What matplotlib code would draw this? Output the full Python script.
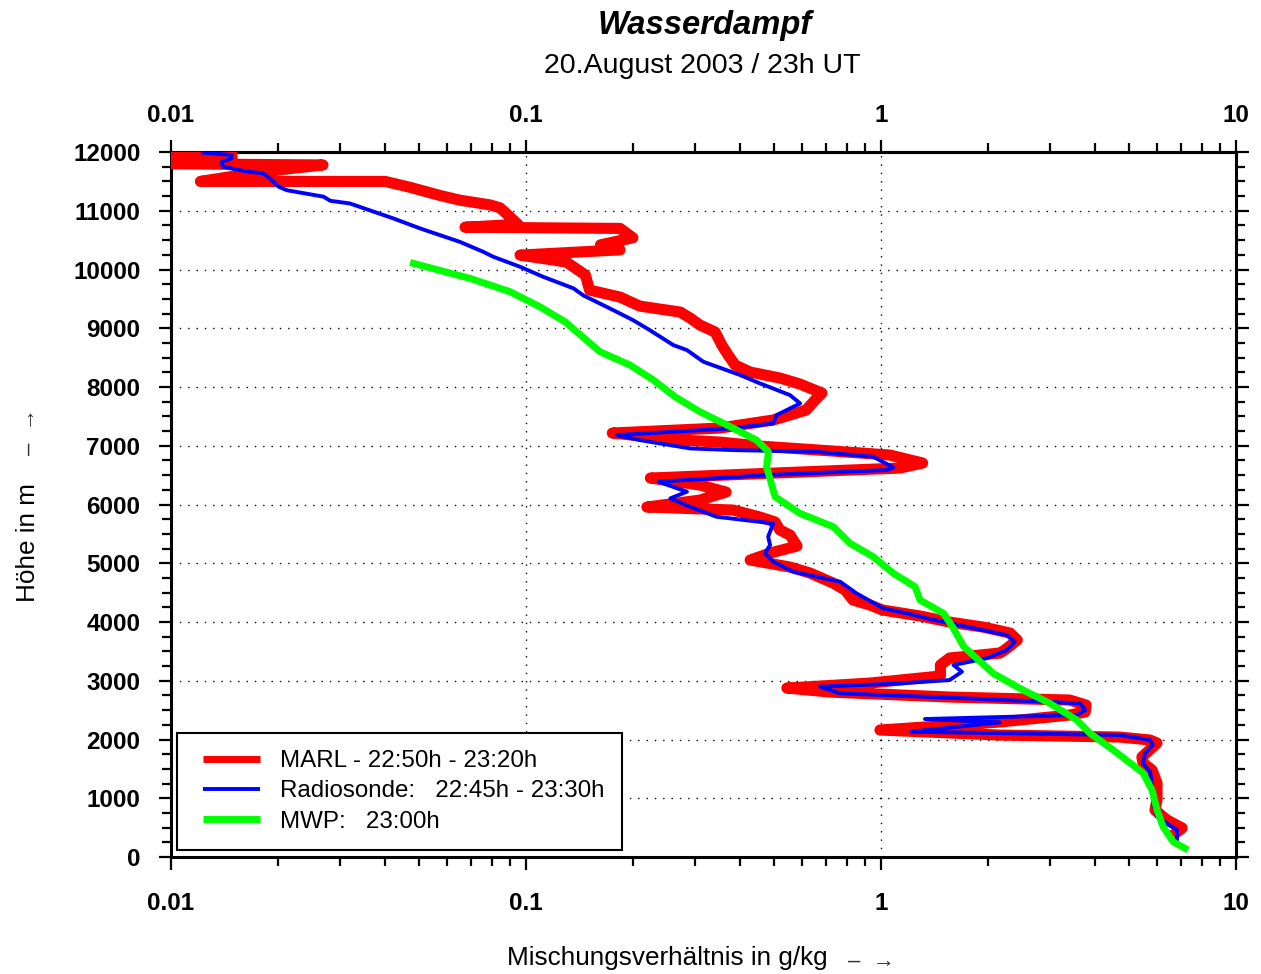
import numpy as np
import matplotlib
matplotlib.use('Agg')
import matplotlib.pyplot as plt
from matplotlib.ticker import FixedLocator, FixedFormatter, LogLocator, NullFormatter, MultipleLocator

plt.rcParams['font.family'] = ['Liberation Sans', 'DejaVu Sans']

# MARL lidar profile (g/kg, m)
marl_q = [0.01485, 0.0100, 0.0096, 0.0096, 0.0268, 0.0178, 0.0121, 0.0401, 0.0471, 0.0573,
          0.0652, 0.0792, 0.0845, 0.0949, 0.0673, 0.184, 0.200, 0.162, 0.184, 0.0962,
          0.130, 0.147, 0.151, 0.184, 0.209, 0.272, 0.290, 0.309, 0.341, 0.356,
          0.371, 0.388, 0.428, 0.519, 0.591, 0.682, 0.652, 0.615, 0.554, 0.496,
          0.352, 0.175, 0.272, 0.352, 0.456, 0.733, 1.06, 1.31, 1.13, 0.591,
          0.224, 0.309, 0.366, 0.309, 0.219, 0.383, 0.456, 0.503, 0.519, 0.554,
          0.580, 0.487, 0.428, 0.554, 0.631, 0.733, 0.792, 0.834, 0.931, 1.01,
          1.29, 1.56, 1.94, 2.31, 2.42, 2.23, 2.16, 1.56, 1.47, 1.47,
          0.931, 0.543, 0.718, 1.56, 3.40, 3.78, 3.76, 3.40, 2.16, 0.993,
          2.16, 4.71, 5.73, 5.99, 5.43, 5.47, 5.80, 5.99, 5.99, 5.91,
          6.39, 7.05, 6.82]
marl_h = [11960, 11960, 11930, 11800, 11780, 11660, 11500, 11500, 11400, 11260,
          11180, 11100, 11050, 10770, 10720, 10700, 10540, 10420, 10335, 10246,
          10127, 9906, 9650, 9531, 9378, 9276, 9174, 9055, 8936, 8714,
          8544, 8374, 8255, 8153, 8051, 7897, 7778, 7608, 7523, 7438,
          7302, 7217, 7097, 7063, 6995, 6910, 6842, 6706, 6621, 6553,
          6451, 6331, 6212, 6076, 5957, 5906, 5787, 5702, 5566, 5481,
          5293, 5174, 5055, 4936, 4834, 4663, 4544, 4374, 4289, 4204,
          4102, 3999, 3914, 3812, 3693, 3523, 3472, 3387, 3268, 3081,
          2961, 2876, 2808, 2723, 2672, 2587, 2468, 2417, 2298, 2162,
          2076, 2042, 1991, 1940, 1702, 1600, 1481, 1259, 970, 800,
          630, 494, 425]

# Radiosonde profile
sonde_q = [0.0123, 0.0148, 0.0148, 0.0139, 0.0140, 0.0160, 0.0182, 0.0190, 0.0201, 0.0212,
           0.0269, 0.0281, 0.0319, 0.0423, 0.0503, 0.0652, 0.0759, 0.0809, 0.0962, 0.1117,
           0.136, 0.145, 0.176, 0.200, 0.223, 0.260, 0.284, 0.316, 0.401, 0.456,
           0.554, 0.592, 0.508, 0.497, 0.376, 0.180, 0.209, 0.290, 0.383, 0.659,
           0.951, 1.083, 1.037, 0.476, 0.236, 0.284, 0.255, 0.290, 0.344, 0.497,
           0.481, 0.487, 0.471, 0.497, 0.566, 0.767, 0.853, 1.014, 1.242, 1.345,
           1.742, 2.26, 2.38, 2.26, 1.98, 1.60, 1.69, 1.56, 1.13, 0.673,
           0.767, 1.74, 3.64, 3.76, 3.56, 1.33, 2.16, 1.22, 4.71, 5.73,
           5.83, 5.54, 5.47, 5.73, 5.80, 5.84, 5.99, 6.39, 6.82, 6.82]
sonde_h = [11990, 11950, 11890, 11835, 11750, 11680, 11635, 11550, 11410, 11350,
           11240, 11170, 11125, 10870, 10700, 10470, 10300, 10217, 10047, 9877,
           9680, 9560, 9310, 9140, 8970, 8714, 8629, 8430, 8204, 8062,
           7863, 7721, 7523, 7380, 7296, 7182, 7097, 6955, 6927, 6898,
           6813, 6632, 6587, 6502, 6388, 6218, 6105, 5962, 5792, 5678,
           5452, 5310, 5169, 5026, 4856, 4686, 4488, 4233, 4119, 4063,
           3920, 3778, 3665, 3523, 3382, 3268, 3154, 3012, 2956, 2899,
           2786, 2701, 2616, 2502, 2417, 2349, 2292, 2133, 2076, 1991,
           1906, 1765, 1594, 1452, 1197, 914, 686, 572, 459, 289]

# Microwave profiler
mwp_q = [0.0482, 0.0695, 0.0902, 0.1094, 0.1288, 0.1616, 0.1963, 0.2285, 0.263, 0.309,
         0.368, 0.446, 0.482, 0.476, 0.503, 0.591, 0.734, 0.818, 0.951, 1.083,
         1.247, 1.288, 1.50, 1.60, 1.71, 2.07, 2.46, 2.99, 3.56, 3.88,
         4.51, 5.47, 5.80, 5.99, 6.23, 6.65, 7.18]
mwp_h = [10104, 9850, 9622, 9366, 9111, 8600, 8374, 8119, 7834, 7579,
         7353, 7097, 6898, 6643, 6132, 5849, 5622, 5339, 5111, 4829,
         4601, 4374, 4147, 3892, 3580, 3126, 2871, 2616, 2332, 2105,
         1821, 1430, 1140, 800, 516, 260, 148]

x_ticks = [0.01, 0.1, 1, 10]
x_ticklabels = ['0.01', '0.1', '1', '10']
labels = ['MARL - 22:50h - 23:20h', 'Radiosonde:   22:45h - 23:30h', 'MWP:   23:00h']


def style_xaxis(a, pad):
    a.xaxis.set_major_locator(FixedLocator(x_ticks))
    a.xaxis.set_major_formatter(FixedFormatter(x_ticklabels))
    a.xaxis.set_minor_locator(LogLocator(base=10, subs=np.arange(2, 10)))
    a.xaxis.set_minor_formatter(NullFormatter())
    a.tick_params(axis='x', which='both', direction='out', width=1.6)
    a.tick_params(axis='x', which='major', length=9, pad=pad, labelsize=17.5)
    a.tick_params(axis='x', which='minor', length=6.5)
    for lab in a.get_xticklabels():
        lab.set_fontweight('bold')


fig = plt.figure(figsize=(12.61, 9.74), dpi=100)
ax = fig.add_axes([0.1356, 0.1201, 0.8446, 0.7238])

ax.plot(marl_q, marl_h, color='#ff0000', lw=8, label=labels[0], zorder=3)
ax.plot(sonde_q, sonde_h, color='#0000ff', lw=2.8, label=labels[1], zorder=4)
ax.plot(mwp_q, mwp_h, color='#00ff00', lw=5, label=labels[2], zorder=5)

ax.set_xscale('log')
ax.set_xlim(0.01, 10)
ax.set_ylim(0, 12000)

style_xaxis(ax, 16)
ax.tick_params(axis='x', which='both', top=False)

ax.yaxis.set_major_locator(MultipleLocator(1000))
ax.yaxis.set_minor_locator(MultipleLocator(250))
ax.tick_params(axis='y', which='both', direction='out', right=True, labelright=False, width=1.6)
ax.tick_params(axis='y', which='major', length=9, pad=13, labelsize=17.5)
ax.tick_params(axis='y', which='minor', length=6.5)
for lab in ax.get_yticklabels():
    lab.set_fontweight('bold')

secax = ax.secondary_xaxis('top')
style_xaxis(secax, 9)
secax.spines['top'].set_linewidth(2.2)

for s in ax.spines.values():
    s.set_linewidth(2.2)

ax.grid(True, which='major', color='black', linestyle=(0, (1, 5)), lw=1)

leg = ax.legend(loc='lower left', bbox_to_anchor=(0.0056, 0.0099), borderaxespad=0,
                fontsize=17.4, frameon=True, fancybox=False, framealpha=1,
                edgecolor='black', handlelength=2.7, handletextpad=0.83,
                borderpad=0.72, labelspacing=0.34)
leg.get_frame().set_linewidth(1.5)
# shorten the legend lines on the left so they sit further from the frame
for h in leg.get_lines():
    xd = h.get_xdata()
    h.set_xdata([xd[0] + 6.2, xd[-1]])
    h.set_ydata([h.get_ydata()[0]] * 2)
    h.set_solid_capstyle('butt')
    h.set_linewidth(5)
leg.get_lines()[1].set_linewidth(2.8)

fig.text(0.5587, 0.9743, 'Wasserdampf', ha='center', va='center',
         fontsize=23.6, fontweight='bold', fontstyle='italic')
fig.text(0.5567, 0.9322, '20.August 2003 / 23h UT', ha='center', va='center', fontsize=20.5)
fig.text(0.5293, 0.0164, 'Mischungsverhältnis in g/kg', ha='center', va='center', fontsize=18.8)
fig.text(0.6915, 0.0130, '–  →', ha='center', va='center', fontsize=16, color='#333333')
fig.text(0.0225, 0.4435, 'Höhe in m', ha='center', va='center', rotation=90, fontsize=18.8)
fig.text(0.0230, 0.5565, '–  →', ha='center', va='center', rotation=90, fontsize=16, color='#333333')

fig.savefig('out.png', dpi=100)
